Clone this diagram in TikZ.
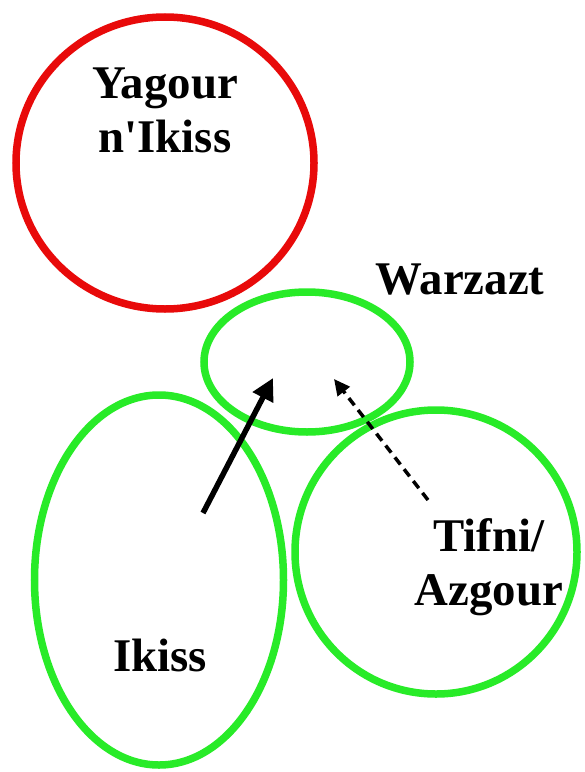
\documentclass[tikz,border=0pt]{standalone}
\usepackage{fontspec}
\setmainfont{Liberation Serif}
\usetikzlibrary{shapes.geometric,arrows.meta}
\definecolor{ringred}{RGB}{232,10,10}
\definecolor{ringgreen}{RGB}{40,235,40}
\tikzset{
  ring/.style={ellipse, draw, line width=7.5bp, inner sep=0pt},
  lbl/.style={font=\fontsize{47}{54}\selectfont\bfseries, align=center, inner sep=0pt},
  flow/.style={line width=5.5bp, -{Triangle[length=22bp,width=22bp]}},
  flowdash/.style={line width=3.5bp, dash pattern=on 9bp off 6bp, -{Triangle[length=16bp,width=15bp]}}
}
\begin{document}
\begin{tikzpicture}[x=1bp,y=-1bp]
\useasboundingbox (0,0) rectangle (585,772);
\fill[white] (0,0) rectangle (585,772);
\node[ring, draw=ringred, minimum width=298bp, minimum height=292bp] (yag) at (165,163) {};
\node[ring, draw=ringgreen, minimum width=206bp, minimum height=140bp] (war) at (307,362) {};
\node[ring, draw=ringgreen, minimum width=249bp, minimum height=370bp] (iki) at (159,580) {};
\node[ring, draw=ringgreen, minimum width=282bp, minimum height=284bp] (tif) at (436,552) {};
\node[lbl] (yagt) at (165,110) {Yagour\\n\textquotesingle Ikiss};
\node[lbl] (wart) at (460,280) {Warzazt};
\node[lbl] (tift) at (489,567) {Tifni/\\Azgour};
\node[lbl] (ikit) at (160,655) {Ikiss};
\coordinate (s1) at (203,513);
\coordinate (e1) at (273,378);
\coordinate (s2) at (428,500);
\coordinate (e2) at (334,379);
\draw[flow] (s1) -- (e1);
\draw[flowdash] (s2) -- (e2);
\end{tikzpicture}
\end{document}
